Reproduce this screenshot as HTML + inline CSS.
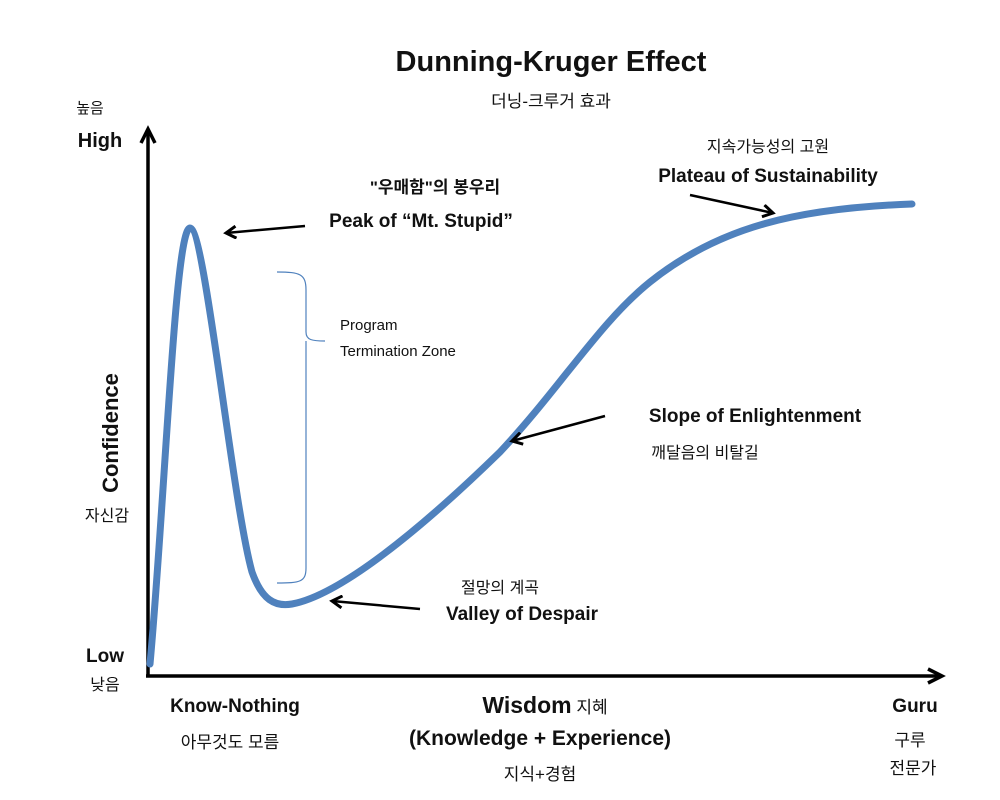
<!DOCTYPE html>
<html><head><meta charset="utf-8"><style>
html,body{margin:0;padding:0;background:#fff;}
svg{display:block;}
text{font-family:"Liberation Sans","Noto Sans CJK KR",sans-serif;fill:#111;}
.b{font-weight:bold;}
</style></head><body>
<svg width="1000" height="800" viewBox="0 0 1000 800">
<defs>
<marker id="ah" markerWidth="14" markerHeight="14" refX="11" refY="7" orient="auto" markerUnits="userSpaceOnUse">
<path d="M1,1 L11,7 L1,13" fill="none" stroke="#000" stroke-width="3"/>
</marker>
</defs>
<line x1="148" y1="676" x2="148" y2="132" stroke="#000" stroke-width="3.5"/>
<path d="M141,143 L148,129 L155,143" fill="none" stroke="#000" stroke-width="3.5"/>
<line x1="146" y1="676" x2="938" y2="676" stroke="#000" stroke-width="3.5"/>
<path d="M928,669 L942,676 L928,683" fill="none" stroke="#000" stroke-width="3.5"/>
<path d="M150,664 C165,500 175,228 190,228 C205,228 232,500 252,572 C262,600 275,607 292,604 C340,595 420,530 500,452 C560,388 600,322 650,282 C720,226 800,208 912,204" fill="none" stroke="#4f81bd" stroke-width="7" stroke-linecap="round"/>
<path d="M277,272 C300,272 306,274 306,290 L306,332 C306,340 312,341 325,341 M306,341 C306,343 306,348 306,352 L306,568 C306,582 300,583 277,583" fill="none" stroke="#4f81bd" stroke-width="1.2"/>
<line x1="305" y1="226" x2="226" y2="233" stroke="#000" stroke-width="2.5" marker-end="url(#ah)"/>
<line x1="690" y1="195" x2="773" y2="213" stroke="#000" stroke-width="2.5" marker-end="url(#ah)"/>
<line x1="605" y1="416" x2="512" y2="441" stroke="#000" stroke-width="2.5" marker-end="url(#ah)"/>
<line x1="420" y1="609" x2="332" y2="601" stroke="#000" stroke-width="2.5" marker-end="url(#ah)"/>
<text x="551" y="71" text-anchor="middle" class="b" font-size="29">Dunning-Kruger Effect</text>
<text x="551" y="107" text-anchor="middle" font-size="17">더닝-크루거 효과</text>
<text x="90" y="113" text-anchor="middle" font-size="15">높음</text>
<text x="100" y="147" text-anchor="middle" class="b" font-size="20">High</text>
<text transform="translate(118,433) rotate(-90)" text-anchor="middle" class="b" font-size="22">Confidence</text>
<text x="107" y="521" text-anchor="middle" font-size="16">자신감</text>
<text x="105" y="662" text-anchor="middle" class="b" font-size="19">Low</text>
<text x="105" y="690" text-anchor="middle" font-size="16">낮음</text>
<text x="435" y="193" text-anchor="middle" class="b" font-size="17">"우매함"의 봉우리</text>
<text x="421" y="227" text-anchor="middle" class="b" font-size="19">Peak of “Mt. Stupid”</text>
<text x="340" y="330" font-size="15">Program</text>
<text x="340" y="356" font-size="15">Termination Zone</text>
<text x="768" y="152" text-anchor="middle" font-size="16">지속가능성의 고원</text>
<text x="768" y="182" text-anchor="middle" class="b" font-size="19">Plateau of Sustainability</text>
<text x="755" y="422" text-anchor="middle" class="b" font-size="19">Slope of Enlightenment</text>
<text x="705" y="458" text-anchor="middle" font-size="16">깨달음의 비탈길</text>
<text x="500" y="593" text-anchor="middle" font-size="16">절망의 계곡</text>
<text x="522" y="620" text-anchor="middle" class="b" font-size="19">Valley of Despair</text>
<text x="235" y="712" text-anchor="middle" class="b" font-size="19">Know-Nothing</text>
<text x="230" y="748" text-anchor="middle" font-size="17">아무것도 모름</text>
<text x="545" y="713" text-anchor="middle"><tspan class="b" font-size="23">Wisdom</tspan><tspan font-size="17"> 지혜</tspan></text>
<text x="540" y="745" text-anchor="middle" class="b" font-size="21">(Knowledge  + Experience)</text>
<text x="540" y="780" text-anchor="middle" font-size="17">지식+경험</text>
<text x="915" y="712" text-anchor="middle" class="b" font-size="19">Guru</text>
<text x="910" y="746" text-anchor="middle" font-size="17">구루</text>
<text x="913" y="774" text-anchor="middle" font-size="17">전문가</text>
</svg>
</body></html>
